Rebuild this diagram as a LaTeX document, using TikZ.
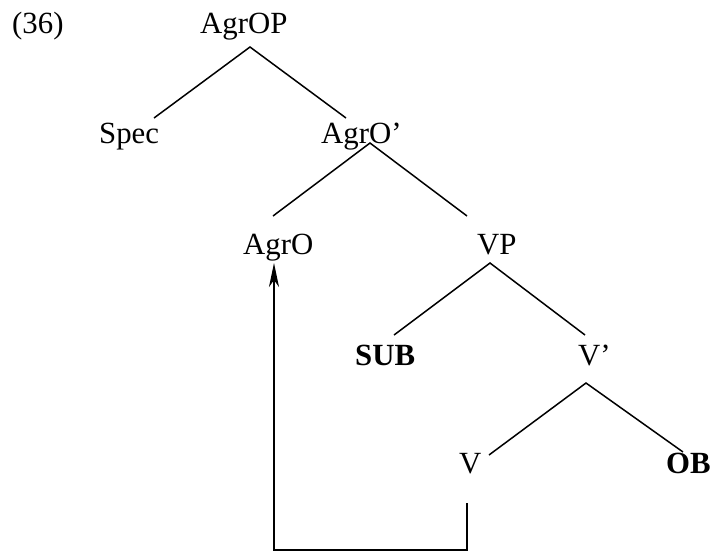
\documentclass[tikz,border=0pt]{standalone}
\usepackage{fontspec}
\setmainfont{Liberation Serif}
\usetikzlibrary{arrows.meta}
\begin{document}
\begin{tikzpicture}[x=1pt,y=1pt,
  lbl/.style={anchor=base west,inner sep=0pt,font=\fontsize{30.8}{36}\selectfont},
  blbl/.style={lbl,font=\fontsize{30.8}{36}\selectfont\bfseries},
  branch/.style={line width=1.5pt},
  movearrow/.style={line width=2pt,-{Stealth[length=24pt,width=10pt,inset=7pt]}}]
\useasboundingbox (0,0) rectangle (710,-552);
\node[lbl] (ex) at (12,-33) {(36)};
\node[lbl] (agrop) at (200,-33) {AgrOP};
\node[lbl] (spec) at (99,-143) {Spec};
\node[lbl] (agrobar) at (321,-143) {AgrO'};
\node[lbl] (agro) at (243,-254) {AgrO};
\node[lbl] (vp) at (477,-254) {VP};
\node[blbl] (sub) at (355,-365) {SUB};
\node[lbl] (vbar) at (578,-365) {V'};
\node[lbl] (v) at (459,-473) {V};
\node[blbl] (ob) at (666,-473) {OB};
% branch points
\coordinate (agrop-b) at (250,-47);
\coordinate (spec-t) at (154,-118);
\coordinate (agrobar-t) at (346,-118);
\coordinate (agrobar-b) at (370,-143);
\coordinate (agro-t) at (273,-216);
\coordinate (vp-t) at (467,-216);
\coordinate (vp-b) at (490,-263);
\coordinate (sub-t) at (394,-335);
\coordinate (vbar-t) at (585,-335);
\coordinate (vbar-b) at (586,-383);
\coordinate (v-t) at (489,-455);
\coordinate (ob-t) at (683,-452);
\draw[branch] (spec-t) -- (agrop-b) -- (agrobar-t);
\draw[branch] (agro-t) -- (agrobar-b) -- (vp-t);
\draw[branch] (sub-t) -- (vp-b) -- (vbar-t);
\draw[branch] (v-t) -- (vbar-b) -- (ob-t);
% movement arrow
\coordinate (v-b) at (467,-503);
\coordinate (agro-b) at (274,-263);
\draw[movearrow] (v-b) |- ++(0,-47) -| (agro-b);
\end{tikzpicture}
\end{document}
